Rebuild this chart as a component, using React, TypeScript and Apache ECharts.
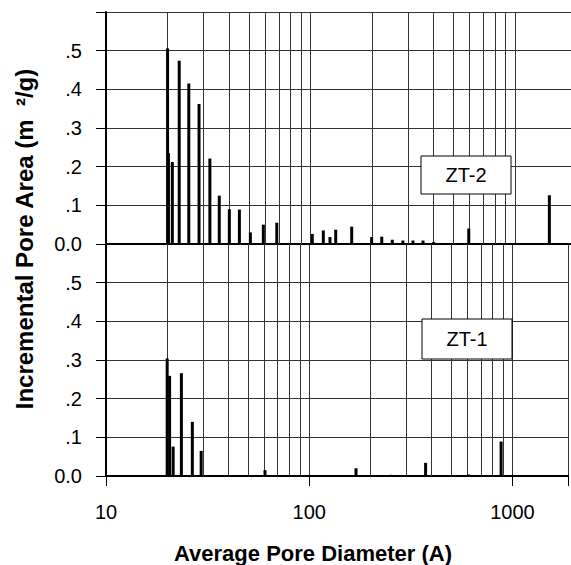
import React, { useEffect, useRef } from "react";
import * as echarts from "echarts";

// ZT-2 (upper panel)
const zt2Diameters = [20.0, 20.2, 21.1, 22.8, 25.4, 28.5, 32.2, 35.8, 40.1, 44.9, 50.8, 58.8, 68.4, 102, 115.5, 124.5, 132.8, 159, 199, 223, 251, 283, 317, 355, 400, 450, 594, 1472];
const zt2Areas = [0.506, 0.235, 0.212, 0.474, 0.415, 0.362, 0.221, 0.125, 0.09, 0.089, 0.03, 0.05, 0.055, 0.026, 0.035, 0.018, 0.037, 0.045, 0.018, 0.019, 0.011, 0.009, 0.009, 0.009, 0.005, 0.002, 0.04, 0.126];

// ZT-1 (lower panel)
const zt1Diameters = [20.0, 20.56, 21.4, 23.5, 26.6, 29.4, 60.6, 170, 252, 374, 609, 880];
const zt1Areas = [0.304, 0.259, 0.076, 0.266, 0.14, 0.065, 0.015, 0.02, 0.003, 0.034, 0.004, 0.089];

const minorGridDiameters = [20, 30, 40, 50, 60, 70, 80, 90, 200, 300, 400, 500, 600, 700, 800, 900];
const xTickLabels = ["10", "100", "1000"];
const sampleLabels = ["ZT-2", "ZT-1"];
const xTitle = "Average Pore Diameter (A)";
const yTitle = "Incremental Pore Area (m  \u00B2/g)";

const FONT = '"Liberation Sans", Arial, Helvetica, sans-serif';
const GRID_COLOR = "#333";
const X_MIN = 10;
const X_MAX = 1878;

function toPairs(ds: number[], vs: number[]) {
  return ds.map((d, i) => [d, vs[i]]);
}

const renderBar = (_params: any, api: any) => {
  const x = api.value(0);
  const y = api.value(1);
  const top = api.coord([x, y]);
  const base = api.coord([x, 0]);
  const w = 3;
  return {
    type: "rect",
    shape: { x: top[0] - w / 2, y: top[1], width: w, height: base[1] - top[1] },
    style: { fill: "#000" },
  };
};

function yLabel(v: number) {
  const r = Math.round(v * 10) / 10;
  if (r === 0) return "0.0";
  if (r >= 0.6) return "";
  return r.toFixed(1).replace(/^0/, "");
}

function xLabel(v: number) {
  const r = Math.round(v);
  const idx = [10, 100, 1000].indexOf(r);
  return idx >= 0 ? xTickLabels[idx] : "";
}

function makeXAxis(gridIndex: number, showLabels: boolean) {
  return {
    type: "log",
    logBase: 10,
    gridIndex,
    min: X_MIN,
    max: X_MAX,
    axisLine: { show: true, lineStyle: { color: "#000", width: 2 } },
    axisTick: { show: showLabels, length: 10, inside: false, lineStyle: { color: "#000", width: 1 } },
    axisLabel: {
      show: showLabels,
      formatter: xLabel,
      fontFamily: FONT,
      fontSize: 20,
      color: "#000",
      margin: 26,
    },
    splitLine: { show: true, lineStyle: { color: GRID_COLOR, width: 1 } },
  };
}

function makeYAxis(gridIndex: number) {
  return {
    type: "value",
    gridIndex,
    min: 0,
    max: 0.6,
    interval: 0.1,
    axisLine: { show: true, lineStyle: { color: "#000", width: 2 } },
    axisTick: { show: true, length: 10, inside: false, lineStyle: { color: "#000", width: 1 } },
    axisLabel: {
      formatter: yLabel,
      fontFamily: FONT,
      fontSize: 20,
      color: "#000",
      margin: 24,
    },
    splitLine: { show: true, lineStyle: { color: GRID_COLOR, width: 1 } },
  };
}

function makeSeries(idx: number, ds: number[], vs: number[]) {
  return {
    type: "custom",
    xAxisIndex: idx,
    yAxisIndex: idx,
    renderItem: renderBar,
    data: toPairs(ds, vs),
    silent: true,
    z: 5,
    markLine: {
      silent: true,
      symbol: ["none", "none"],
      label: { show: false },
      lineStyle: { color: GRID_COLOR, width: 1, type: "solid" },
      data: minorGridDiameters.map((d) => ({ xAxis: d })),
      z: 1,
    },
  };
}

function labelBox(text: string, x: number, y: number, w: number, h: number) {
  return [
    {
      type: "rect",
      x,
      y,
      z: 200,
      shape: { x: 0, y: 0, width: w, height: h },
      style: { fill: "#ffffff", stroke: "#000000", lineWidth: 1 },
    },
    {
      type: "text",
      x: x + w / 2,
      y: y + h / 2,
      z: 201,
      style: { text, font: `20px ${FONT}`, fill: "#000", align: "center", verticalAlign: "middle" },
    },
  ];
}

export default function App() {
  const ref = useRef<HTMLDivElement>(null);
  useEffect(() => {
    if (!ref.current) return;
    const chart = echarts.init(ref.current, undefined, { renderer: "svg" });
    chart.setOption({
      animation: false,
      backgroundColor: "#fff",
      grid: [
        { left: 106, right: 0, top: 12, height: 232 },
        { left: 106, right: 0, top: 244, height: 232 },
      ],
      xAxis: [makeXAxis(0, false), makeXAxis(1, true)],
      yAxis: [makeYAxis(0), makeYAxis(1)],
      series: [makeSeries(0, zt2Diameters, zt2Areas), makeSeries(1, zt1Diameters, zt1Areas)],
      graphic: [
        ...labelBox(sampleLabels[0], 421, 156, 90, 38),
        ...labelBox(sampleLabels[1], 422, 319, 90, 40),
        {
          type: "text",
          x: 24,
          y: 239,
          rotation: Math.PI / 2,
          style: { text: yTitle, font: `bold 24px ${FONT}`, fill: "#000", align: "center", verticalAlign: "middle" },
        },
        {
          type: "text",
          x: 313,
          y: 553,
          style: { text: xTitle, font: `bold 22px ${FONT}`, fill: "#000", align: "center", verticalAlign: "middle" },
        },
      ],
    });
    return () => chart.dispose();
  }, []);
  return <div ref={ref} style={{ position: "fixed", left: 0, top: 0, width: 571, height: 565, background: "#fff" }} />;
}
